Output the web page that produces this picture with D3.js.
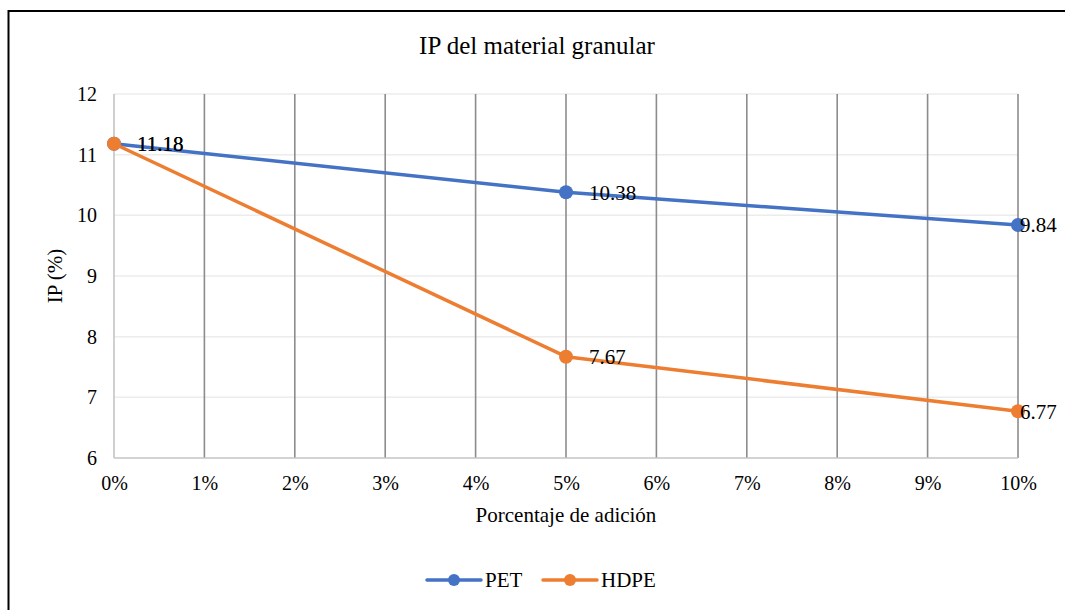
<!DOCTYPE html>
<html>
<head>
<meta charset="utf-8">
<script src="https://cdn.jsdelivr.net/npm/d3@7"></script>
<style>
  html, body { margin: 0; padding: 0; background: #fff; }
  svg { display: block; }
  svg text { font-family: "Liberation Serif", "Times New Roman", serif !important; }
</style>
</head>
<body>
<svg id="chart" width="1065" height="610"></svg>
<script>
// ---- data ----
const title = "IP del material granular";
const xTitle = "Porcentaje de adición";
const yTitle = "IP (%)";
const xValues = [0, 5, 10];           // % de adición
const petValues = [11.18, 10.38, 9.84];
const hdpeValues = [11.18, 7.67, 6.77];
const xTicks = [0, 1, 2, 3, 4, 5, 6, 7, 8, 9, 10];
const yTicks = [6, 7, 8, 9, 10, 11, 12];
const seriesNames = ["PET", "HDPE"];

// ---- layout ----
const svg = d3.select("#chart");
const W = 1065, H = 610;
const plot = { left: 114, right: 1018, top: 94, bottom: 458 };
const colors = { PET: "#4472C4", HDPE: "#ED7D31" };

const x = d3.scaleLinear().domain([0, 10]).range([plot.left, plot.right]);
const y = d3.scaleLinear().domain([6, 12]).range([plot.bottom, plot.top]);

// outer frame
svg.append("rect").attr("x", 8.5).attr("y", 11).attr("width", W + 10).attr("height", H + 10)
  .attr("fill", "#fff").attr("stroke", "#000").attr("stroke-width", 2);

// horizontal gridlines
svg.append("g").selectAll("line").data(yTicks.filter(d => d !== 6)).join("line")
  .attr("x1", plot.left).attr("x2", plot.right)
  .attr("y1", d => y(d)).attr("y2", d => y(d))
  .attr("stroke", "#ececec").attr("stroke-width", 1.5);

// vertical gridlines
svg.append("g").selectAll("line").data(xTicks.filter(d => d !== 0)).join("line")
  .attr("x1", d => x(d)).attr("x2", d => x(d))
  .attr("y1", plot.top).attr("y2", plot.bottom)
  .attr("stroke", "#8c8c8c").attr("stroke-width", 1.6);

// axes lines
svg.append("line").attr("x1", x(0)).attr("x2", x(0)).attr("y1", plot.top).attr("y2", plot.bottom)
  .attr("stroke", "#c4c4c4").attr("stroke-width", 1.6);
svg.append("line").attr("x1", plot.left).attr("x2", plot.right).attr("y1", plot.bottom).attr("y2", plot.bottom)
  .attr("stroke", "#c4c4c4").attr("stroke-width", 1.6);

// y axis labels
const yAxis = d3.axisLeft(y).tickValues(yTicks).tickSize(0).tickPadding(17).tickFormat(d3.format("d"));
const gy = svg.append("g").attr("transform", `translate(${plot.left},0)`).call(yAxis);
gy.select(".domain").remove();
gy.attr("font-family", null).attr("font-size", null);
gy.selectAll("text").style("font-size", "20px").attr("fill", "#000");

// x axis labels
const xAxis = d3.axisBottom(x).tickValues(xTicks).tickSize(0).tickPadding(18).tickFormat(d => d + "%");
const gx = svg.append("g").attr("transform", `translate(0,${plot.bottom})`).call(xAxis);
gx.select(".domain").remove();
gx.attr("font-family", null).attr("font-size", null);
gx.selectAll("text").style("font-size", "20px").attr("fill", "#000");

// titles
svg.append("text").attr("x", 537).attr("y", 54).attr("text-anchor", "middle")
  .attr("font-size", 25).attr("fill", "#000").text(title);
svg.append("text").attr("x", (plot.left + plot.right) / 2).attr("y", 522).attr("text-anchor", "middle")
  .attr("font-size", 21).attr("fill", "#000").text(xTitle);
svg.append("text").attr("transform", "translate(62,276) rotate(-90)").attr("text-anchor", "middle")
  .attr("font-size", 21).attr("fill", "#000").text(yTitle);

// series
const series = [
  { name: "PET", values: petValues },
  { name: "HDPE", values: hdpeValues }
];
const line = d3.line().x(d => x(d[0])).y(d => y(d[1]));

series.forEach(s => {
  const pts = xValues.map((xv, i) => [xv, s.values[i]]);
  svg.append("path").datum(pts).attr("d", line)
    .attr("fill", "none").attr("stroke", colors[s.name]).attr("stroke-width", 3.5)
    .attr("stroke-linejoin", "round").attr("stroke-linecap", "round");
  svg.append("g").selectAll("circle").data(pts).join("circle")
    .attr("cx", d => x(d[0])).attr("cy", d => y(d[1])).attr("r", 7)
    .attr("fill", colors[s.name]);
});

// data labels
series.forEach(s => {
  const pts = xValues.map((xv, i) => [xv, s.values[i]]);
  svg.append("g").selectAll("text").data(pts).join("text")
    .attr("x", d => x(d[0]) + (d[0] === 10 ? 2 : 23))
    .attr("y", d => y(d[1]))
    .attr("dy", "0.35em")
    .attr("font-size", 21).attr("fill", "#000")
    .text(d => d[1].toFixed(2));
});

// legend
const legend = [
  { name: "PET", x0: 427 },
  { name: "HDPE", x0: 543 }
];
const ly = 580;
legend.forEach(l => {
  const g = svg.append("g");
  g.append("line").attr("x1", l.x0).attr("x2", l.x0 + 54).attr("y1", ly).attr("y2", ly)
    .attr("stroke", colors[l.name]).attr("stroke-width", 3.5).attr("stroke-linecap", "round");
  g.append("circle").attr("cx", l.x0 + 27).attr("cy", ly).attr("r", 6).attr("fill", colors[l.name]);
  g.append("text").attr("x", l.x0 + 58).attr("y", ly).attr("dy", "0.35em")
    .attr("font-size", 21).attr("fill", "#000").text(l.name);
});
</script>
</body>
</html>
